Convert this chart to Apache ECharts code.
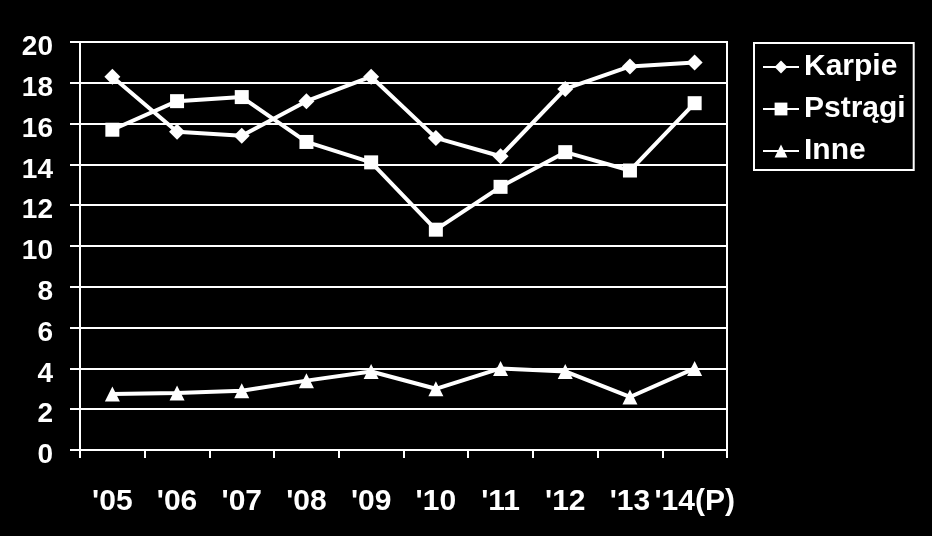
<!DOCTYPE html>
<html>
<head>
<meta charset="utf-8">
<script src="https://cdn.jsdelivr.net/npm/echarts@6/dist/echarts.min.js"></script>
<style>
html,body{margin:0;padding:0;background:#000;}
#chart{width:932px;height:536px;}
</style>
</head>
<body>
<div id="chart"></div>
<script>
const categories = ["'05","'06","'07","'08","'09","'10","'11","'12","'13","'14(P)"];
const karpie  = [18.3, 15.6, 15.4, 17.1, 18.3, 15.3, 14.4, 17.7, 18.8, 19.0];
const pstragi = [15.7, 17.1, 17.3, 15.1, 14.1, 10.8, 12.9, 14.6, 13.7, 17.0];
const inne    = [2.75, 2.8, 2.9, 3.4, 3.85, 3.0, 4.0, 3.85, 2.6, 4.0];
const seriesNames = ['Karpie', 'Pstrągi', 'Inne'];

const font = '"Liberation Sans", Arial, sans-serif';
const chart = echarts.init(document.getElementById('chart'));
const lineStyle = {color: '#fff', width: 4};
function mk(name, data, symbol, size) {
  return {
    name: name, type: 'line', data: data, symbol: symbol, symbolSize: size,
    lineStyle: lineStyle, itemStyle: {color: '#fff'}, showSymbol: true,
    animation: false
  };
}
chart.setOption({
  backgroundColor: '#000',
  animation: false,
  grid: {left: 80, right: 205, top: 42, bottom: 86, show: true, borderColor: '#fff', borderWidth: 2, backgroundColor: 'transparent'},
  legend: {
    orient: 'vertical', left: 754, top: 43, padding: [9, 8, 4, 8],
    borderColor: '#fff', borderWidth: 2, itemWidth: 36, itemHeight: 16, itemGap: 12,
    textStyle: {color: '#fff', fontFamily: font, fontWeight: 'bold', fontSize: 30, lineHeight: 30},
    data: seriesNames
  },
  xAxis: {
    type: 'category', data: categories, boundaryGap: true,
    axisLine: {lineStyle: {color: '#fff', width: 2}},
    axisTick: {show: true, length: 8, lineStyle: {color: '#fff', width: 2}},
    axisLabel: {color: '#fff', fontFamily: font, fontWeight: 'bold', fontSize: 30, margin: 37, interval: 0, hideOverlap: false},
    splitLine: {show: false}
  },
  yAxis: {
    type: 'value', min: 0, max: 20, interval: 2,
    axisLine: {show: true, lineStyle: {color: '#fff', width: 2}},
    axisTick: {show: true, length: 10, lineStyle: {color: '#fff', width: 2}},
    axisLabel: {
      color: '#fff', fontFamily: font, fontWeight: 'bold', fontSize: 28, margin: 27,
      formatter: '{a|{value}}',
      rich: {a: {color: '#fff', fontFamily: font, fontWeight: 'bold', fontSize: 28, padding: [11, 0, 0, 0]}}
    },
    splitLine: {show: true, lineStyle: {color: '#fff', width: 2}}
  },
  series: [
    mk(seriesNames[0], karpie, 'diamond', 16),
    mk(seriesNames[1], pstragi, 'rect', 14),
    mk(seriesNames[2], inne, 'triangle', 15)
  ]
});
</script>
</body>
</html>
